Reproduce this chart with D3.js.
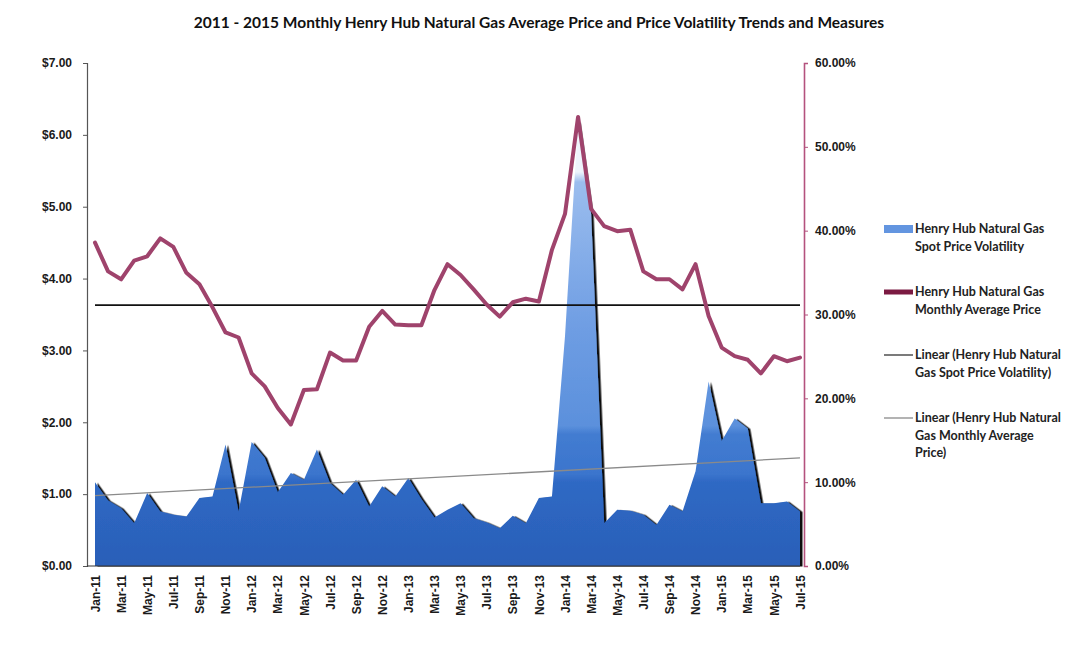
<!DOCTYPE html>
<html>
<head>
<meta charset="utf-8">
<script src="https://cdn.jsdelivr.net/npm/d3@7/dist/d3.min.js"></script>
<style>
  html, body { margin: 0; padding: 0; background: #ffffff; }
  svg { display: block; font-family: Lato, "Open Sans", sans-serif; }
  .axis text { font-size: 12px; font-weight: 700; fill: #1a1a1a; }
  .legend text { font-size: 12.5px; font-weight: 700; fill: #222; }
</style>
</head>
<body>
<svg id="chart" width="1067" height="662"></svg>
<script>
// Monthly categories, Jan 2011 through Jul 2015
const months = [
  "Jan-11","Feb-11","Mar-11","Apr-11","May-11","Jun-11","Jul-11","Aug-11","Sep-11","Oct-11","Nov-11","Dec-11",
  "Jan-12","Feb-12","Mar-12","Apr-12","May-12","Jun-12","Jul-12","Aug-12","Sep-12","Oct-12","Nov-12","Dec-12",
  "Jan-13","Feb-13","Mar-13","Apr-13","May-13","Jun-13","Jul-13","Aug-13","Sep-13","Oct-13","Nov-13","Dec-13",
  "Jan-14","Feb-14","Mar-14","Apr-14","May-14","Jun-14","Jul-14","Aug-14","Sep-14","Oct-14","Nov-14","Dec-14",
  "Jan-15","Feb-15","Mar-15","Apr-15","May-15","Jun-15","Jul-15"
];

// Henry Hub monthly average price, $/MMBtu (left axis)
const avgPrice = [
  4.50, 4.10, 3.99, 4.25, 4.31, 4.56, 4.44, 4.08, 3.92, 3.60, 3.25, 3.18,
  2.68, 2.50, 2.20, 1.97, 2.45, 2.46, 2.97, 2.86, 2.86, 3.33, 3.55, 3.36,
  3.35, 3.35, 3.84, 4.20, 4.05, 3.85, 3.64, 3.47, 3.67, 3.72, 3.68, 4.40,
  4.90, 6.25, 4.97, 4.73, 4.66, 4.68, 4.10, 3.99, 3.99, 3.85, 4.20, 3.48,
  3.04, 2.92, 2.87, 2.68, 2.92, 2.85, 2.90
];

// Henry Hub spot price volatility, % (right axis)
const volatility = [
  10.0, 7.8, 6.9, 5.1, 8.7, 6.5, 6.1, 5.9, 8.1, 8.3, 14.5, 6.5,
  14.8, 12.9, 8.8, 11.1, 10.3, 13.9, 9.9, 8.5, 10.3, 7.1, 9.5, 8.3,
  10.5, 8.0, 5.8, 6.7, 7.5, 5.7, 5.2, 4.5, 6.0, 5.1, 8.1, 8.3,
  27.4, 53.0, 42.0, 5.1, 6.7, 6.6, 6.1, 4.9, 7.3, 6.5, 11.3, 22.0,
  14.9, 17.6, 16.4, 7.5, 7.5, 7.7, 6.5
];

// Linear trend lines: start and end values (first and last month)
const trendPriceLevel = [3.63, 3.63];   // flat dark line, $ scale
const trendVolLevel = [8.4, 12.9];      // rising grey line, % scale

// Axis ticks
const priceTicks = [0, 1, 2, 3, 4, 5, 6, 7];
const volTicks = [0, 10, 20, 30, 40, 50, 60];
const monthTicks = months.filter((m, i) => i % 2 === 0);

// Legend entries
const legendLabels = [
  ["Henry Hub Natural Gas", "Spot Price Volatility"],
  ["Henry Hub Natural Gas", "Monthly Average Price"],
  ["Linear (Henry Hub Natural", "Gas Spot Price Volatility)"],
  ["Linear (Henry Hub Natural", "Gas Monthly Average", "Price)"]
];

const title = "2011 - 2015 Monthly Henry Hub Natural Gas Average Price and Price Volatility Trends and Measures";

const svg = d3.select("#chart");

const plot = { left: 87, right: 804, top: 63, bottom: 566 };

const x = d3.scalePoint().domain(months).range([95, 800]);
const yPrice = d3.scaleLinear().domain([0, 7]).range([plot.bottom, plot.top]);
const yVol = d3.scaleLinear().domain([0, 60]).range([plot.bottom, plot.top]);

// Title
svg.append("text")
  .attr("x", 539).attr("y", 28)
  .attr("text-anchor", "middle")
  .style("font-size", "15.5px").style("font-weight", 700).style("fill", "#111")
  .text(title);

// Defs: area gradient and drop shadow
const defs = svg.append("defs");
const grad = defs.append("linearGradient")
  .attr("id", "volFill")
  .attr("gradientUnits", "userSpaceOnUse")
  .attr("x1", 0).attr("x2", 0)
  .attr("y1", plot.top).attr("y2", plot.bottom);
const span = plot.bottom - plot.top;
const stopAt = (py, color) => grad.append("stop")
  .attr("offset", Math.max(0, Math.min(1, (py - plot.top) / span)))
  .attr("stop-color", color);
stopAt(plot.top, "#f4f8fd");
stopAt(172, "#eef4fc");
stopAt(182, "#9bbdee");
stopAt(330, "#6e9de3");
stopAt(426, "#5b90dc");
stopAt(434, "#437cd1");
stopAt(474, "#3b75cd");
stopAt(482, "#2f69c4");
stopAt(plot.bottom, "#2a5fb8");

const shadow = defs.append("filter").attr("id", "areaShadow")
  .attr("x", "-5%").attr("y", "-5%").attr("width", "110%").attr("height", "110%");
shadow.append("feDropShadow")
  .attr("dx", 2.5).attr("dy", 0.5).attr("stdDeviation", 0.6)
  .attr("flood-color", "#000").attr("flood-opacity", 0.95);

// Volatility area (right axis)
const area = d3.area()
  .x((d, i) => x(months[i]))
  .y0(yVol(0))
  .y1(d => yVol(d));
svg.append("path")
  .datum(volatility)
  .attr("d", area)
  .attr("fill", "url(#volFill)")
  .attr("filter", "url(#areaShadow)");

// Trend lines
const ends = [months[0], months[months.length - 1]];
svg.append("path")
  .datum(trendVolLevel)
  .attr("d", d3.line().x((d, i) => x(ends[i])).y(d => yVol(d)))
  .attr("fill", "none").attr("stroke", "#8a8a8a").attr("stroke-width", 1.3);
svg.append("path")
  .datum(trendPriceLevel)
  .attr("d", d3.line().x((d, i) => x(ends[i])).y(d => yPrice(d)))
  .attr("fill", "none").attr("stroke", "#111").attr("stroke-width", 1.6);

// Monthly average price line (left axis)
svg.append("path")
  .datum(avgPrice)
  .attr("d", d3.line().x((d, i) => x(months[i])).y(d => yPrice(d)))
  .attr("fill", "none")
  .attr("stroke", "#9f436c")
  .attr("stroke-width", 4)
  .attr("stroke-linejoin", "round")
  .attr("stroke-linecap", "round");

// Left axis
const leftAxis = svg.append("g").attr("class", "axis")
  .attr("transform", `translate(${plot.left},0)`)
  .call(d3.axisLeft(yPrice).tickValues(priceTicks)
    .tickFormat(d => "$" + d.toFixed(2)).tickSize(4).tickPadding(11));
leftAxis.select(".domain").attr("stroke", "#555").attr("stroke-width", 1.2);
leftAxis.selectAll(".tick line").attr("stroke", "#555");

// Right axis
const rightAxis = svg.append("g").attr("class", "axis")
  .attr("transform", `translate(${plot.right},0)`)
  .call(d3.axisRight(yVol).tickValues(volTicks)
    .tickFormat(d => d.toFixed(2) + "%").tickSize(4).tickPadding(7));
rightAxis.select(".domain").attr("stroke", "#b4527e").attr("stroke-width", 1.6);
rightAxis.selectAll(".tick line").attr("stroke", "#b4527e");

// Category axis with rotated month labels
const bottomAxis = svg.append("g").attr("class", "axis")
  .attr("transform", `translate(0,${plot.bottom})`)
  .call(d3.axisBottom(x).tickValues(monthTicks).tickSize(0));
bottomAxis.select(".domain")
  .attr("d", `M${plot.left},0H${x(months[months.length - 1])}`)
  .attr("stroke", "#333").attr("stroke-width", 1.2);
bottomAxis.selectAll(".tick text")
  .attr("y", 0).attr("x", -9).attr("dy", "0.35em")
  .attr("transform", "rotate(-90)")
  .style("text-anchor", "end");

// Legend
const legend = svg.append("g").attr("class", "legend");
const legendTop = [229, 292, 355, 418];
const lineGap = 17.5;
const swatchX0 = 884, swatchX1 = 913, textX = 915;
legendLabels.forEach((lines, k) => {
  const y0 = legendTop[k];
  if (k === 0) {
    legend.append("rect").attr("x", swatchX0).attr("y", y0 - 4)
      .attr("width", swatchX1 - swatchX0).attr("height", 8).attr("fill", "#6395e0");
  } else if (k === 1) {
    legend.append("line").attr("x1", swatchX0).attr("x2", swatchX1)
      .attr("y1", y0).attr("y2", y0).attr("stroke", "#7b1a42").attr("stroke-width", 5);
  } else {
    legend.append("line").attr("x1", swatchX0).attr("x2", swatchX1)
      .attr("y1", y0).attr("y2", y0)
      .attr("stroke", k === 2 ? "#333" : "#8a8a8a").attr("stroke-width", 1.3);
  }
  lines.forEach((t, j) => {
    legend.append("text").attr("x", textX).attr("y", y0 + j * lineGap)
      .attr("dy", "0.35em").text(t);
  });
});
</script>
</body>
</html>
